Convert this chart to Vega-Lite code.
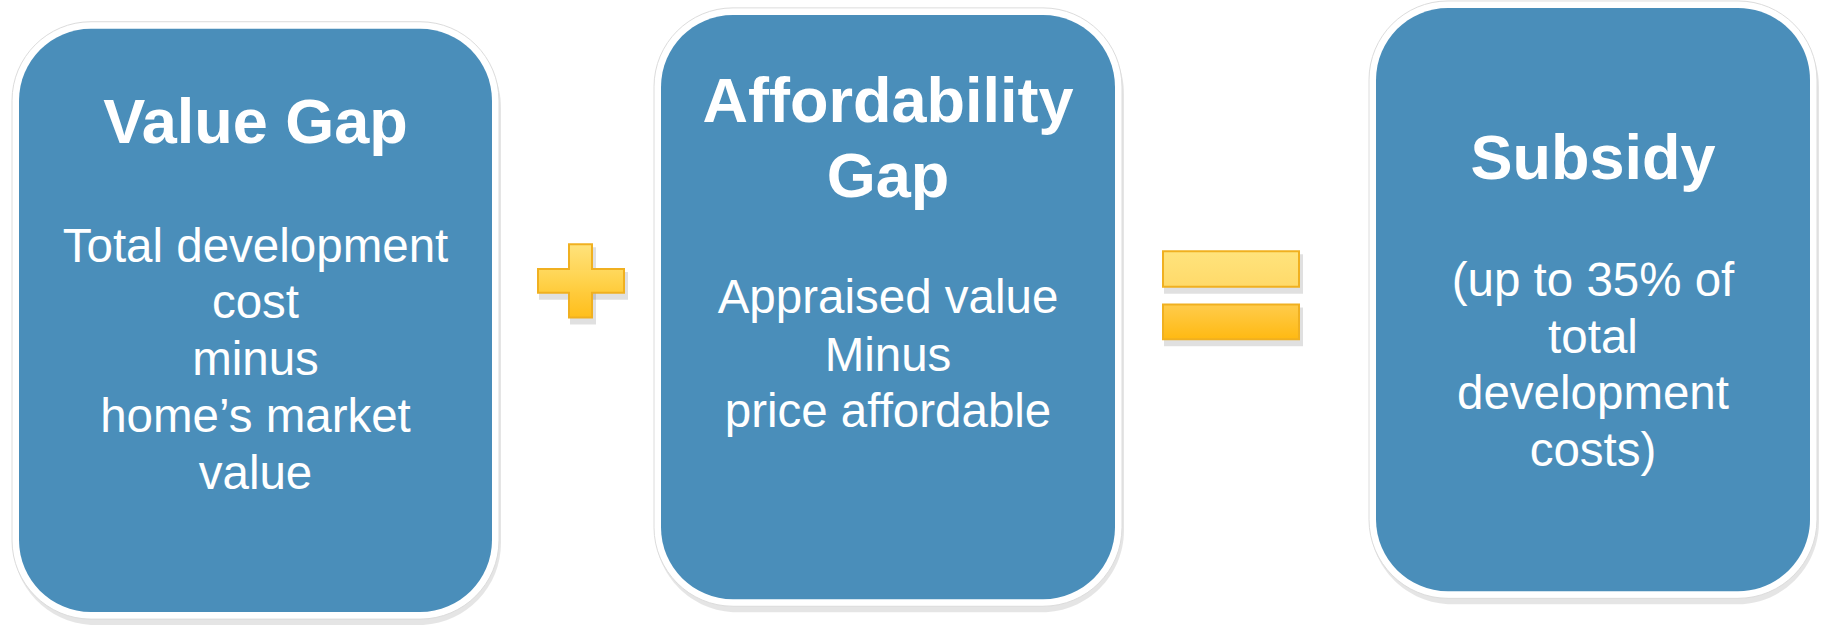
{
  "$schema": "https://vega.github.io/schema/vega-lite/v6.json",
  "width": 1833,
  "height": 625,
  "autosize": {"type": "fit", "contains": "padding"},
  "padding": 0,
  "background": "#ffffff",
  "config": {"view": {"stroke": null}},
  "datasets": {
    "boxes": [
      {"box": "Value Gap", "x0": 19, "x1": 492, "y0": 25, "y1": 615},
      {"box": "Affordability Gap", "x0": 661, "x1": 1115, "y0": 11, "y1": 602},
      {"box": "Subsidy", "x0": 1376, "x1": 1810, "y0": 4, "y1": 594}
    ],
    "signs": [
      {"part": "plus_v", "x0": 568, "x1": 593, "y0": 242, "y1": 318},
      {"part": "plus_h", "x0": 537, "x1": 625, "y0": 267, "y1": 293},
      {"part": "eq_top", "x0": 1162, "x1": 1300, "y0": 249, "y1": 287},
      {"part": "eq_bottom", "x0": 1162, "x1": 1300, "y0": 303, "y1": 340}
    ],
    "labels": [
      {"kind": "title", "x": 255.5, "y": 141, "text": "Value Gap"},
      {"kind": "body", "x": 255.5, "y": 261, "text": "Total development"},
      {"kind": "body", "x": 255.5, "y": 318, "text": "cost"},
      {"kind": "body", "x": 255.5, "y": 375, "text": "minus"},
      {"kind": "body", "x": 255.5, "y": 433, "text": "home’s market"},
      {"kind": "body", "x": 255.5, "y": 490, "text": "value"},
      {"kind": "title", "x": 888, "y": 119, "text": "Affordability"},
      {"kind": "title", "x": 888, "y": 195, "text": "Gap"},
      {"kind": "body", "x": 888, "y": 313, "text": "Appraised value"},
      {"kind": "body", "x": 888, "y": 371, "text": "Minus"},
      {"kind": "body", "x": 888, "y": 428, "text": "price affordable"},
      {"kind": "title", "x": 1593, "y": 177, "text": "Subsidy"},
      {"kind": "body", "x": 1593, "y": 295, "text": "(up to 35% of"},
      {"kind": "body", "x": 1593, "y": 353, "text": "total"},
      {"kind": "body", "x": 1593, "y": 410, "text": "development"},
      {"kind": "body", "x": 1593, "y": 467, "text": "costs)"}
    ]
  },
  "layer": [
    {
      "data": {"name": "boxes"},
      "mark": {"type": "rect", "fill": "#000000", "opacity": 0.1, "cornerRadius": 82, "xOffset": -6, "x2Offset": 9, "yOffset": -3, "y2Offset": 13},
      "encoding": {
        "x": {"field": "x0", "type": "quantitative", "scale": {"domain": [0, 1833], "nice": false, "zero": false}, "axis": null},
        "x2": {"field": "x1"},
        "y": {"field": "y0", "type": "quantitative", "scale": {"domain": [0, 625], "nice": false, "zero": false, "reverse": true}, "axis": null},
        "y2": {"field": "y1"}
      }
    },
    {
      "data": {"name": "boxes"},
      "mark": {"type": "rect", "fill": "#ffffff", "stroke": "#dcdcdc", "strokeWidth": 1, "cornerRadius": 79, "xOffset": -7, "x2Offset": 7, "yOffset": -7, "y2Offset": 7},
      "encoding": {
        "x": {"field": "x0", "type": "quantitative", "scale": {"domain": [0, 1833], "nice": false, "zero": false}, "axis": null},
        "x2": {"field": "x1"},
        "y": {"field": "y0", "type": "quantitative", "scale": {"domain": [0, 625], "nice": false, "zero": false, "reverse": true}, "axis": null},
        "y2": {"field": "y1"}
      }
    },
    {
      "data": {"name": "boxes"},
      "mark": {"type": "rect", "fill": "#4A8EBA", "cornerRadius": 72},
      "encoding": {
        "x": {"field": "x0", "type": "quantitative", "scale": {"domain": [0, 1833], "nice": false, "zero": false}, "axis": null},
        "x2": {"field": "x1"},
        "y": {"field": "y0", "type": "quantitative", "scale": {"domain": [0, 625], "nice": false, "zero": false, "reverse": true}, "axis": null},
        "y2": {"field": "y1"}
      }
    },
    {
      "data": {"name": "signs"},
      "mark": {"type": "rect", "fill": "#000000", "opacity": 0.12, "xOffset": 2, "x2Offset": 3, "yOffset": 4, "y2Offset": 6},
      "encoding": {
        "x": {"field": "x0", "type": "quantitative", "scale": {"domain": [0, 1833], "nice": false, "zero": false}, "axis": null},
        "x2": {"field": "x1"},
        "y": {"field": "y0", "type": "quantitative", "scale": {"domain": [0, 625], "nice": false, "zero": false, "reverse": true}, "axis": null},
        "y2": {"field": "y1"}
      }
    },
    {
      "data": {"name": "signs"},
      "mark": {"type": "rect", "fill": "#F0B020"},
      "encoding": {
        "x": {"field": "x0", "type": "quantitative", "scale": {"domain": [0, 1833], "nice": false, "zero": false}, "axis": null},
        "x2": {"field": "x1"},
        "y": {"field": "y0", "type": "quantitative", "scale": {"domain": [0, 625], "nice": false, "zero": false, "reverse": true}, "axis": null},
        "y2": {"field": "y1"}
      }
    },
    {
      "data": {"name": "signs"},
      "transform": [{"filter": "datum.part == 'plus_v'"}],
      "mark": {"type": "rect", "xOffset": 2, "x2Offset": -2, "yOffset": 2, "y2Offset": -2,
        "fill": {"gradient": "linear", "x1": 0, "y1": 0, "x2": 0, "y2": 1, "stops": [{"offset": 0, "color": "#FFE27A"}, {"offset": 1, "color": "#FFBF1C"}]}},
      "encoding": {
        "x": {"field": "x0", "type": "quantitative", "scale": {"domain": [0, 1833], "nice": false, "zero": false}, "axis": null},
        "x2": {"field": "x1"},
        "y": {"field": "y0", "type": "quantitative", "scale": {"domain": [0, 625], "nice": false, "zero": false, "reverse": true}, "axis": null},
        "y2": {"field": "y1"}
      }
    },
    {
      "data": {"name": "signs"},
      "transform": [{"filter": "datum.part == 'plus_h'"}],
      "mark": {"type": "rect", "xOffset": 2, "x2Offset": -2, "yOffset": 2, "y2Offset": -2,
        "fill": {"gradient": "linear", "x1": 0, "y1": 0, "x2": 0, "y2": 1, "stops": [{"offset": 0, "color": "#FFD85C"}, {"offset": 1, "color": "#FFCC3C"}]}},
      "encoding": {
        "x": {"field": "x0", "type": "quantitative", "scale": {"domain": [0, 1833], "nice": false, "zero": false}, "axis": null},
        "x2": {"field": "x1"},
        "y": {"field": "y0", "type": "quantitative", "scale": {"domain": [0, 625], "nice": false, "zero": false, "reverse": true}, "axis": null},
        "y2": {"field": "y1"}
      }
    },
    {
      "data": {"name": "signs"},
      "transform": [{"filter": "datum.part == 'eq_top'"}],
      "mark": {"type": "rect", "xOffset": 2, "x2Offset": -2, "yOffset": 2, "y2Offset": -2,
        "fill": {"gradient": "linear", "x1": 0, "y1": 0, "x2": 0, "y2": 1, "stops": [{"offset": 0, "color": "#FFE37C"}, {"offset": 1, "color": "#FFDA6A"}]}},
      "encoding": {
        "x": {"field": "x0", "type": "quantitative", "scale": {"domain": [0, 1833], "nice": false, "zero": false}, "axis": null},
        "x2": {"field": "x1"},
        "y": {"field": "y0", "type": "quantitative", "scale": {"domain": [0, 625], "nice": false, "zero": false, "reverse": true}, "axis": null},
        "y2": {"field": "y1"}
      }
    },
    {
      "data": {"name": "signs"},
      "transform": [{"filter": "datum.part == 'eq_bottom'"}],
      "mark": {"type": "rect", "xOffset": 2, "x2Offset": -2, "yOffset": 2, "y2Offset": -2,
        "fill": {"gradient": "linear", "x1": 0, "y1": 0, "x2": 0, "y2": 1, "stops": [{"offset": 0, "color": "#FFCB4A"}, {"offset": 1, "color": "#FFBA14"}]}},
      "encoding": {
        "x": {"field": "x0", "type": "quantitative", "scale": {"domain": [0, 1833], "nice": false, "zero": false}, "axis": null},
        "x2": {"field": "x1"},
        "y": {"field": "y0", "type": "quantitative", "scale": {"domain": [0, 625], "nice": false, "zero": false, "reverse": true}, "axis": null},
        "y2": {"field": "y1"}
      }
    },
    {
      "data": {"name": "labels"},
      "transform": [{"filter": "datum.kind == 'title'"}],
      "mark": {"type": "text", "font": "Liberation Sans", "fontWeight": "bold", "fontSize": 63, "color": "#ffffff", "align": "center", "baseline": "alphabetic"},
      "encoding": {
        "x": {"field": "x", "type": "quantitative", "scale": {"domain": [0, 1833], "nice": false, "zero": false}, "axis": null},
        "y": {"field": "y", "type": "quantitative", "scale": {"domain": [0, 625], "nice": false, "zero": false, "reverse": true}, "axis": null},
        "text": {"field": "text"}
      }
    },
    {
      "data": {"name": "labels"},
      "transform": [{"filter": "datum.kind == 'body'"}],
      "mark": {"type": "text", "font": "Liberation Sans", "fontSize": 47.5, "color": "#ffffff", "align": "center", "baseline": "alphabetic"},
      "encoding": {
        "x": {"field": "x", "type": "quantitative", "scale": {"domain": [0, 1833], "nice": false, "zero": false}, "axis": null},
        "y": {"field": "y", "type": "quantitative", "scale": {"domain": [0, 625], "nice": false, "zero": false, "reverse": true}, "axis": null},
        "text": {"field": "text"}
      }
    }
  ]
}
